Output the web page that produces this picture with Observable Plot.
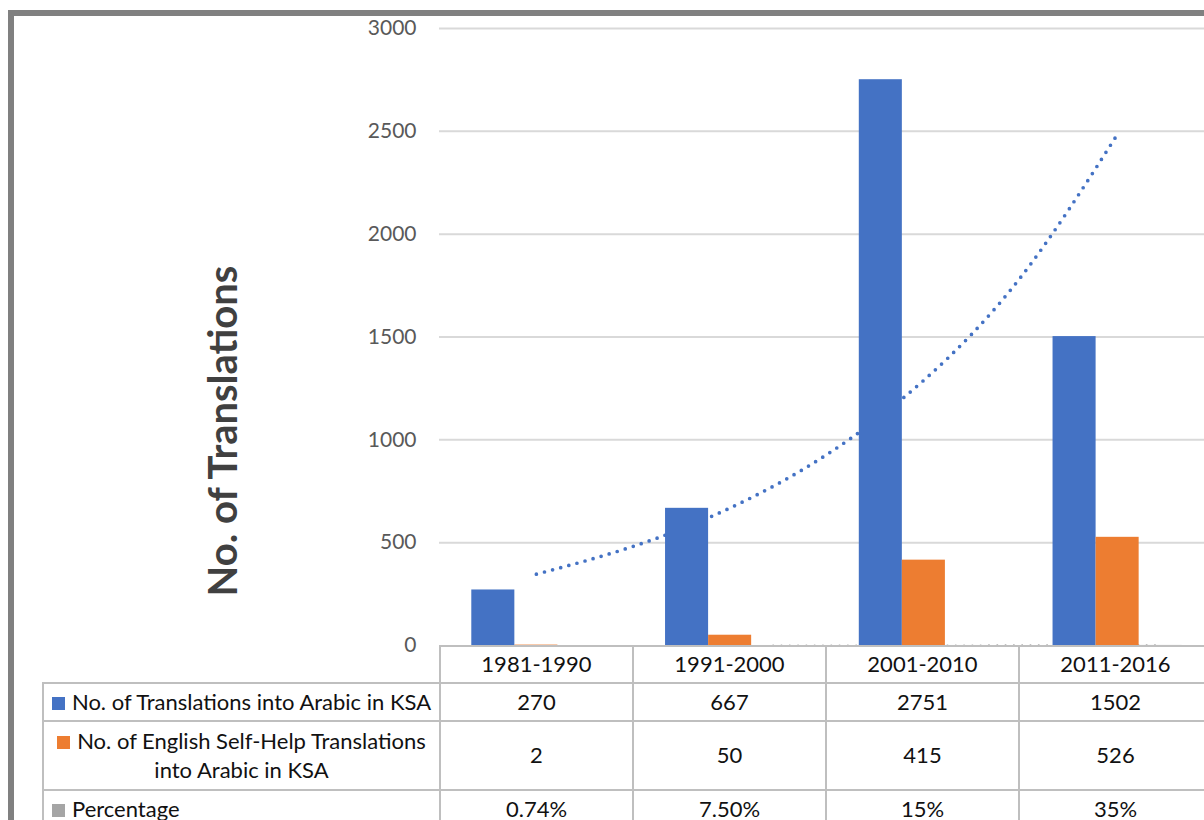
<!DOCTYPE html>
<html><head><meta charset="utf-8">
<script src="https://cdn.jsdelivr.net/npm/d3@7"></script>
<script src="https://cdn.jsdelivr.net/npm/@observablehq/plot@0.6"></script>
<style>
html,body{margin:0;padding:0;width:1204px;height:820px;overflow:hidden;background:#fff;font-family:Lato,sans-serif;}
#frame{position:absolute;left:8px;top:10px;width:1300px;height:900px;border:6px solid #808080;box-sizing:border-box;z-index:10;pointer-events:none;}
#chart{position:absolute;left:0;top:0;}
#ytitle{position:absolute;left:222px;top:431px;transform:translate(-50%,-50%) rotate(-90deg);white-space:nowrap;font-family:Lato,sans-serif;font-weight:bold;font-size:40px;color:#404040;line-height:1;}
#tbl{position:absolute;left:42px;top:645px;width:1169px;border-collapse:collapse;table-layout:fixed;font-family:Lato,sans-serif;font-size:22px;color:#111;}
#tbl td{border:2px solid #bfbfbf;text-align:center;vertical-align:middle;padding:0 0 2px 0;line-height:29px;}
#tbl td.blank{border-top:hidden;border-left:hidden;}
#tbl td.left{text-align:left;padding-left:8px;}
.sw{display:inline-block;width:13px;height:13px;margin-right:7px;vertical-align:0px;}
</style></head>
<body>
<div id="frame"></div>
<div id="chart"></div>
<div id="ytitle"></div>
<table id="tbl"></table>
<script>
const categories = ["1981-1990", "1991-2000", "2001-2010", "2011-2016"];
const seriesNames = ["No. of Translations into Arabic in KSA", "No. of English Self-Help Translations into Arabic in KSA", "Percentage"];
const seriesColors = ["#4472c4", "#ed7d31", "#a5a5a5"];
const translations = [270, 667, 2751, 1502];
const selfHelp = [2, 50, 415, 526];
const percentage = [0.0074, 0.075, 0.15, 0.35];
const percentLabels = ["0.74%", "7.50%", "15%", "35%"];
const yTicks = [0, 500, 1000, 1500, 2000, 2500, 3000];
const yTitle = "No. of Translations";
// exponential trendline of the blue series
const trendPos = [1, 1.5, 2, 2.5, 3, 3.5, 4];
const trendTranslations = [347, 482, 669, 929, 1290, 1791, 2487];
// moving-average trendline of the percentage series (near zero)
const pctTrendPos = [2, 3, 4];
const pctTrend = [0.041, 0.1125, 0.25];

const barW = 2 / 9;
const seriesValues = [translations, selfHelp, percentage];
const bars = [];
categories.forEach((c, i) => {
  seriesValues.forEach((vals, k) => {
    bars.push({cat: c, series: seriesNames[k], value: vals[i], center: i + 1 + (k - 1) * barW});
  });
});
const trendData = trendPos.map((p, j) => ({x: p, y: trendTranslations[j]}));
const pctData = pctTrendPos.map((p, j) => ({x: p + barW, y: pctTrend[j]}));

const plot = Plot.plot({
  width: 1240,
  height: 660,
  marginLeft: 439,
  marginRight: 26,
  marginTop: 28,
  marginBottom: 15,
  style: "max-width:none;overflow:visible;background:transparent;font-family:Lato,sans-serif;color:#595959;",
  x: {type: "linear", domain: [0.5, 4.5], axis: null},
  y: {domain: [0, 3000], axis: null},
  color: {domain: seriesNames, range: seriesColors},
  marks: [
    Plot.ruleY(yTicks.filter(t => t > 0), {stroke: "#d9d9d9", strokeWidth: 2}),
    Plot.line(pctData, {x: "x", y: "y", stroke: "#a5a5a5", strokeWidth: 2.2, strokeDasharray: "0 8.3", strokeLinecap: "round"}),
    Plot.line(trendData, {x: "x", y: "y", stroke: "#4472c4", strokeWidth: 3.7, strokeDasharray: "0 8.4", strokeLinecap: "round", curve: "natural"}),
    Plot.rectY(bars, {x1: d => d.center - barW / 2, x2: d => d.center + barW / 2, y: "value", fill: "series"}),
    Plot.axisY({ticks: yTicks, tickFormat: d => String(d), tickSize: 0, tickPadding: 23, fontSize: 21, label: null, fill: "#595959"})
  ]
});
document.getElementById("chart").appendChild(plot);
document.getElementById("ytitle").textContent = yTitle;

// data table below the plot
const tbl = d3.select("#tbl");
const colgroup = tbl.append("colgroup");
colgroup.append("col").style("width", "397px");
categories.forEach(() => colgroup.append("col").style("width", "193px"));
const head = tbl.append("tr").style("height", "37px");
head.append("td").attr("class", "blank");
categories.forEach(c => head.append("td").text(c));
const rowVals = [translations.map(String), selfHelp.map(String), percentLabels];
const rowHeights = ["38px", "69px", "38px"];
seriesNames.forEach((name, k) => {
  const tr = tbl.append("tr").style("height", rowHeights[k]);
  const td = tr.append("td");
  if (k === 2) td.attr("class", "left");
  td.append("span").attr("class", "sw").style("background", seriesColors[k]);
  if (k === 1) {
    td.append("span").text("No. of English Self-Help Translations");
    td.append("br");
    td.append("span").text("into Arabic in KSA");
  } else {
    td.append("span").text(name);
  }
  rowVals[k].forEach(v => tr.append("td").text(v));
});
</script>
</body></html>
